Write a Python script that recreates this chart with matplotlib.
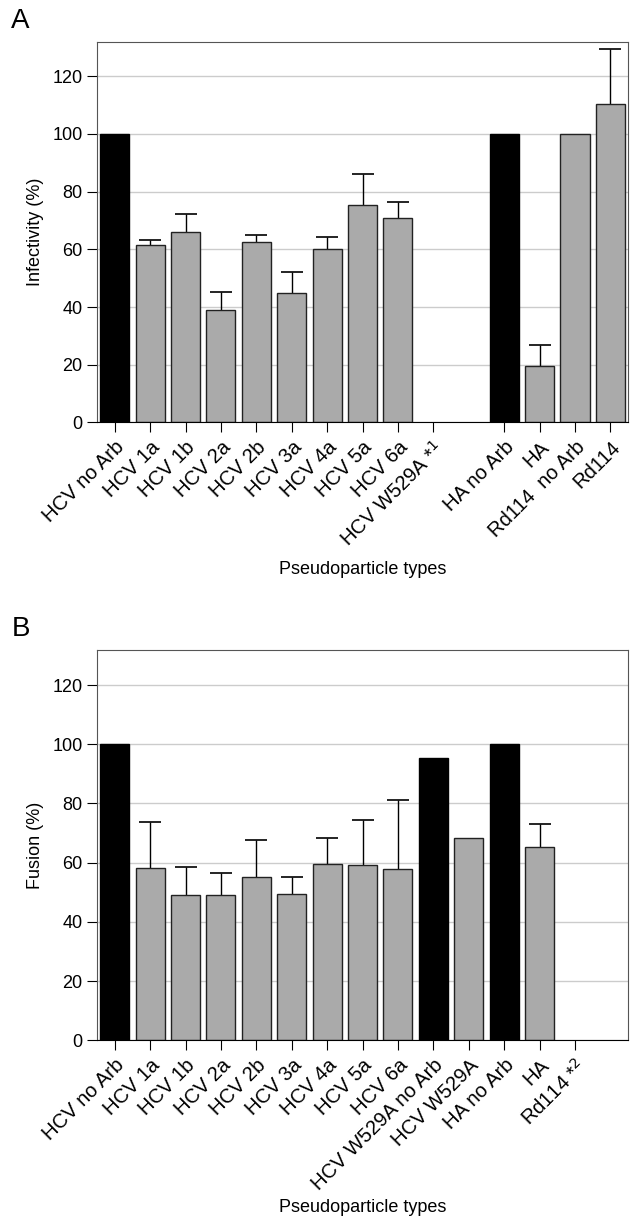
import matplotlib.pyplot as plt
import numpy as np

plt.rcParams['font.family'] = ['Liberation Sans', 'DejaVu Sans']

# === Panel A: infectivity ===
labels_a = ["HCV no Arb", "HCV 1a", "HCV 1b", "HCV 2a", "HCV 2b", "HCV 3a",
            "HCV 4a", "HCV 5a", "HCV 6a", "HCV W529A *$^1$", "",
            "HA no Arb", "HA", "Rd114  no Arb", "Rd114"]
vals_a = [100, 61.5, 66.1, 38.9, 62.4, 44.7, 60.1, 75.2, 70.8, 0, 0,
          100, 19.7, 100, 110.3]
tops_a = [None, 63.2, 72.4, 45.3, 64.8, 52.2, 64.1, 86.0, 76.3, None, None,
          None, 26.7, None, 129.5]
black_a = [0, 11]

# === Panel B: fusion ===
labels_b = ["HCV no Arb", "HCV 1a", "HCV 1b", "HCV 2a", "HCV 2b", "HCV 3a",
            "HCV 4a", "HCV 5a", "HCV 6a", "HCV W529A no Arb", "HCV W529A",
            "HA no Arb", "HA", "Rd114 *$^2$"]
vals_b = [100, 58.3, 49.2, 49.2, 55.3, 49.3, 59.5, 59.3, 57.8, 95.5, 68.5,
          100, 65.2, 0]
tops_b = [None, 73.8, 58.6, 56.6, 67.7, 55.0, 68.5, 74.4, 81.3, None, None,
          None, 73.2, None]
black_b = [0, 9, 11]

ylabels = ["Infectivity (%)", "Fusion (%)"]
letters = ["A", "B"]

fig = plt.figure(figsize=(6.3, 12.21), dpi=100)
axA = fig.add_axes([0.154, 0.654, 0.843, 0.312])
axB = fig.add_axes([0.154, 0.148, 0.843, 0.320])


def draw(ax, labels, vals, tops, blacks, ylabel, letter, xlpad):
    x = np.arange(len(vals))
    colors = ["black" if i in blacks else "#aaaaaa" for i in x]
    ax.set_axisbelow(True)
    ax.yaxis.grid(True, color="#cccccc", lw=1)
    for i in x:
        if vals[i] == 0:
            continue
        ax.bar(i, vals[i], width=0.82, color=colors[i],
               edgecolor="#222222" if colors[i] != "black" else "black", lw=1,
               zorder=2)
        if tops[i] is not None:
            eb = ax.errorbar(i, vals[i], yerr=[[0], [tops[i] - vals[i]]],
                             fmt="none", ecolor="black", elinewidth=1,
                             capsize=8, capthick=1.2, zorder=1.5)
            # only the upper cap is shown
            eb[1][0].set_visible(False)
    ticks = [i for i in x if labels[i] != ""]
    ax.set_xticks(ticks)
    ax.set_xticklabels([labels[i] for i in ticks], rotation=45, ha="right",
                       rotation_mode="anchor", fontsize=14.5)
    ax.set_xlim(-0.5, 14.5)
    ax.set_ylim(0, 132)
    ax.set_yticks(np.arange(0, 121, 20))
    ax.tick_params(axis="y", labelsize=13, length=7, direction="out")
    ax.tick_params(axis="x", length=7, direction="out", pad=4)
    ax.set_ylabel(ylabel, fontsize=13, labelpad=6)
    ax.set_xlabel("Pseudoparticle types", fontsize=13, labelpad=xlpad)
    for s in ["top", "right", "left"]:
        ax.spines[s].set_color("#555555")
    ax.spines["bottom"].set_color("black")
    fig.text(0.018, ax.get_position().y1 + 0.017, letter, fontsize=20,
             va="center", ha="left")


draw(axA, labels_a, vals_a, tops_a, black_a, ylabels[0], letters[0], 8)
draw(axB, labels_b, vals_b, tops_b, black_b, ylabels[1], letters[1], 4)

fig.savefig("out.png", dpi=100, facecolor="white")
